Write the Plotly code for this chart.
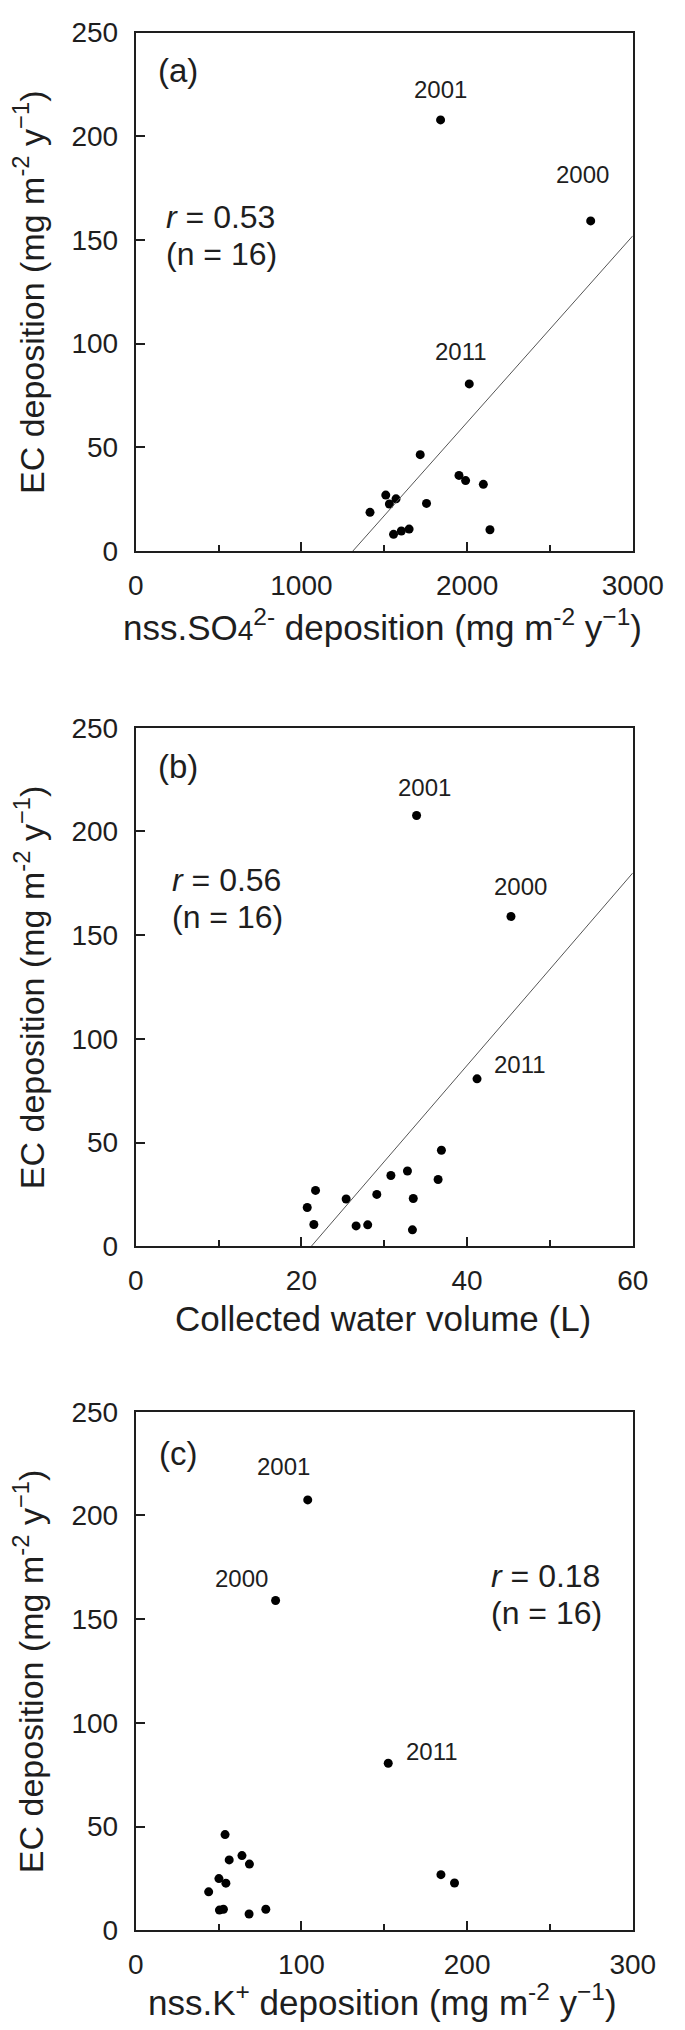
import plotly.graph_objects as go

# ---------------- data ----------------
# Panel (a): nss.SO4 2- deposition vs EC deposition
so4_x = [1414, 1509, 1531, 1571, 1556, 1603, 1650, 1717, 1755, 1951, 1991, 2098, 2138, 2013, 1840, 2746]
so4_y = [18.7, 27.0, 22.7, 25.2, 8.1, 9.7, 10.6, 46.5, 23.0, 36.5, 34.0, 32.2, 10.3, 80.6, 207.9, 159.2]
so4_line_x = [1310, 3000]
so4_line_y = [0, 152]

# Panel (b): collected water volume vs EC deposition
vol_x = [20.7, 21.7, 21.5, 25.4, 26.6, 28.0, 29.1, 30.8, 32.8, 33.5, 33.4, 36.5, 36.9, 41.2, 33.9, 45.3]
vol_y = [18.7, 26.9, 10.5, 22.8, 9.8, 10.3, 25.0, 34.1, 36.3, 23.0, 7.9, 32.2, 46.3, 80.7, 207.7, 159.0]
vol_line_x = [21.2, 60]
vol_line_y = [0, 180]

# Panel (c): nss.K+ deposition vs EC deposition
k_x = [44.0, 50.2, 54.4, 50.5, 52.9, 53.9, 56.4, 64.1, 68.6, 68.4, 78.5, 184.2, 192.4, 152.4, 103.8, 84.4]
k_y = [18.5, 24.9, 22.7, 9.7, 10.1, 46.1, 33.9, 36.0, 31.9, 7.8, 10.1, 26.8, 22.8, 80.5, 207.5, 159.0]

# labelled years: index of the point in each series
year_labels = ["2011", "2001", "2000"]
year_index = [13, 14, 15]

panel_letters = ["(a)", "(b)", "(c)"]
r_values = ["0.53", "0.56", "0.18"]
n_values = ["16", "16", "16"]

x_titles = ["nss.SO<span style='font-size:28px'>4</span><sup>2-</sup> deposition (mg m<sup>-2</sup> y<sup>\u22121</sup>)",
            "Collected water volume (L)",
            "nss.K<sup>+</sup> deposition (mg m<sup>-2</sup> y<sup>\u22121</sup>)"]
y_title = "EC deposition (mg m<sup>-2</sup> y<sup>\u22121</sup>)"

x_ranges = [[0, 3000], [0, 60], [0, 300]]
x_dticks = [1000, 20, 100]
y_range = [0, 250]

# ---------------- layout geometry (pixels) ----------------
W, H = 685, 2030
left_px, right_px = 127, 654
panels_px = [(9.7, 536.3), (715.7, 1242.2), (1410.3, 1936.8)]  # (top, bottom)

FONT = "Liberation Sans, Arial, Helvetica, sans-serif"
INK = "#1e1e1e"

fig = go.Figure()

series = [(so4_x, so4_y), (vol_x, vol_y), (k_x, k_y)]
lines = [(so4_line_x, so4_line_y), (vol_line_x, vol_line_y), None]

# label offsets (pixels) per panel for 2011, 2001, 2000
label_shifts = [
    [(-8, 32), (0, 30), (-8, 46)],
    [(43, 14), (8, 28), (10, 30)],
    [(44, 12), (-24, 33), (-34, 22)],
]
# (x left, y line1, y line2) in axis-domain fractions
r_pos = [(0.057, 0.644, 0.572), (0.068, 0.707, 0.635), (0.711, 0.684, 0.611)]
letter_pos = [(0.085, 0.927), (0.085, 0.925), (0.085, 0.919)]
xtitle_y_px = [611, 1316, 2008]

for i in range(3):
    xa = "x" if i == 0 else f"x{i+1}"
    ya = "y" if i == 0 else f"y{i+1}"
    xs, ys = series[i]
    fig.add_trace(go.Scatter(x=xs, y=ys, mode="markers", xaxis=xa, yaxis=ya,
                             marker=dict(size=9, color="black"), showlegend=False,
                             cliponaxis=False))
    if lines[i] is not None:
        lx, ly = lines[i]
        fig.add_trace(go.Scatter(x=lx, y=ly, mode="lines", xaxis=xa, yaxis=ya,
                                 line=dict(color="#555555", width=1), showlegend=False))
    top, bot = panels_px[i]
    ydom = [1 - bot / H, 1 - top / H]
    xdom = [left_px / W, right_px / W]
    axis_common = dict(showline=True, linecolor=INK, linewidth=2, mirror=True,
                       ticks="inside", tickcolor=INK, tickwidth=1.5, showgrid=False,
                       zeroline=False, tickfont=dict(family=FONT, size=28, color=INK))
    fig.layout[("xaxis" if i == 0 else f"xaxis{i+1}")] = dict(
        domain=xdom, anchor=ya, range=x_ranges[i], dtick=x_dticks[i], tick0=0,
        ticklen=9, ticklabelstandoff=8,
        minor=dict(dtick=x_dticks[i] / 2, ticks="inside", ticklen=6, tickcolor=INK, tickwidth=1.5),
        **axis_common)
    fig.layout[("yaxis" if i == 0 else f"yaxis{i+1}")] = dict(
        domain=ydom, anchor=xa, range=y_range, dtick=50, tick0=0, ticklen=9,
        ticklabelstandoff=10, **axis_common)

    # year labels
    for lab, idx, (dx, dy) in zip(year_labels, year_index, label_shifts[i]):
        fig.add_annotation(x=xs[idx], y=ys[idx], xref=xa, yref=ya, text=lab, showarrow=False,
                           xshift=dx, yshift=dy, font=dict(family=FONT, size=24, color=INK))
    # panel letter
    lx_, ly_ = letter_pos[i]
    fig.add_annotation(x=lx_, y=ly_, xref=f"{xa} domain", yref=f"{ya} domain",
                       text=panel_letters[i], showarrow=False, xanchor="center", yanchor="middle",
                       font=dict(family=FONT, size=33, color=INK))
    # r and n
    rx, ry1, ry2 = r_pos[i]
    fig.add_annotation(x=rx, y=ry1, xref=f"{xa} domain", yref=f"{ya} domain",
                       text=f"<i>r</i> = {r_values[i]}", showarrow=False,
                       xanchor="left", yanchor="middle",
                       font=dict(family=FONT, size=32, color=INK))
    fig.add_annotation(x=rx, y=ry2, xref=f"{xa} domain", yref=f"{ya} domain",
                       text=f"(n = {n_values[i]})", showarrow=False,
                       xanchor="left", yanchor="middle",
                       font=dict(family=FONT, size=32, color=INK))
    # axis titles
    fig.add_annotation(x=389 / W, y=1 - xtitle_y_px[i] / H, xref="paper", yref="paper",
                       text=x_titles[i], showarrow=False, xanchor="center", yanchor="middle",
                       font=dict(family=FONT, size=35, color=INK))
    fig.add_annotation(x=14 / W, y=1 - (top + bot) / 2 / H, xref="paper", yref="paper",
                       text=y_title, textangle=-90, showarrow=False, xanchor="center",
                       yanchor="middle", font=dict(family=FONT, size=34, color=INK))

fig.update_layout(width=W, height=H, margin=dict(l=0, r=0, t=0, b=0),
                  paper_bgcolor="white", plot_bgcolor="white", showlegend=False)

fig.write_html("out.html")
